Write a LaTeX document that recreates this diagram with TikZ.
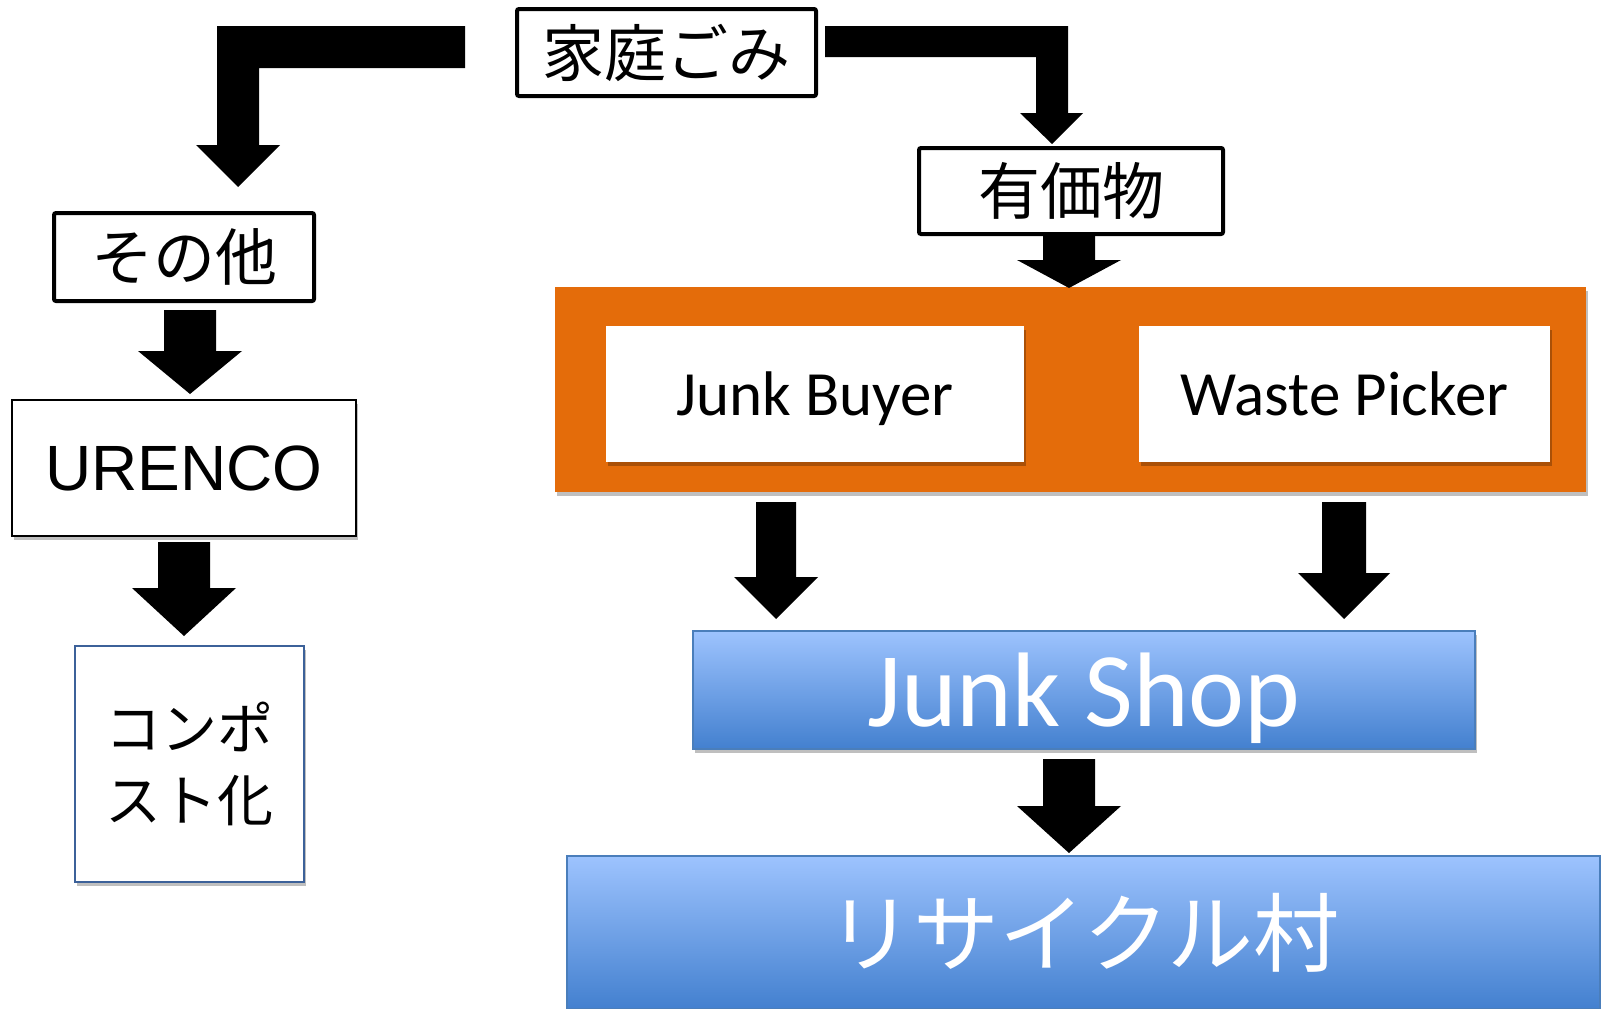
\documentclass[tikz,border=0pt]{standalone}
\usepackage{fontspec}
\setmainfont{Liberation Sans}
\newfontfamily\jpfont{Noto Sans CJK JP}
\newfontfamily\calfont{Carlito}
\usetikzlibrary{shadows}
\definecolor{orng}{HTML}{E46C0A}
\definecolor{ltblue}{HTML}{9DC3FE}
\definecolor{dkblue}{HTML}{4380CF}
\definecolor{bordblue}{HTML}{4A7EBB}
\definecolor{compblue}{HTML}{3C6199}
\newcommand\blkdown[6]{\fill[blk] (#1-#3,#2) -- (#1+#3,#2) -- (#1+#3,#5) -- (#1+#4,#5) -- (#1,#6) -- (#1-#4,#5) -- (#1-#3,#5) -- cycle;}
\begin{document}
\begin{tikzpicture}[x=1pt,y=-1pt,
  blk/.style={fill=black},
  softshadow/.style={drop shadow={shadow xshift=2pt,shadow yshift=-4pt,fill=black,opacity=0.25}},
  thickbox/.style={draw=black,line width=4pt,rounded corners=2pt,fill=white,inner sep=0pt,
    font=\jpfont\fontsize{62}{70}\selectfont},
  thinbox/.style={draw=black,line width=1.5pt,fill=white,inner sep=0pt,softshadow},
  whitebox/.style={fill=white,inner sep=0pt,softshadow,text depth=0pt,font=\calfont\fontsize{63}{70}\selectfont},
  bluebox/.style={draw=bordblue,line width=1.2pt,top color=ltblue,bottom color=dkblue,inner sep=0pt,text=white}]
\useasboundingbox (0,0) rectangle (1604,1009);
% top level boxes
\node[thickbox,minimum width=299pt,minimum height=87pt] (home) at (666.5,52.5) {家庭ごみ};
\node[thickbox,minimum width=260pt,minimum height=88pt] (other) at (184,257) {その他};
\node[thickbox,minimum width=304pt,minimum height=86pt] (valuable) at (1071,191) {有価物};
% left column
\node[thinbox,minimum width=344pt,minimum height=136pt,font=\fontsize{64}{70}\selectfont] (urenco) at (184,468) {URENCO};
\node[thinbox,draw=compblue,minimum width=229pt,minimum height=236pt,align=center,
  font=\jpfont\fontsize{56}{72}\selectfont] (compost) at (189.5,764) {コンポ\\スト化};
% orange group
\node[fill=orng,inner sep=0pt,minimum width=1031pt,minimum height=205pt,softshadow] (group) at (1070.5,389.5) {};
\node[whitebox,minimum width=418pt,minimum height=136pt] (buyer) at (815,394) {Junk Buyer};
\node[whitebox,minimum width=411pt,minimum height=136pt] (picker) at (1344.5,394) {Waste Picker};
% blue boxes
\node[bluebox,softshadow,text depth=0pt,minimum width=782pt,minimum height=118pt,font=\calfont\fontsize{106}{110}\selectfont] (shop) at (1084,690) {Junk Shop};
\node[bluebox,minimum width=1033pt,minimum height=153pt,font=\jpfont\fontsize{86}{90}\selectfont] (village) at (1083.5,932.5) {リサイクル村};
% bent arrows
\fill[blk] (465,26) -- (217,26) -- (217,145) -- (196,145) -- (238,187) -- (280,145) -- (259,145) -- (259,68) -- (465,68) -- cycle;
\fill[blk] (825,26) -- (1068,26) -- (1068,113) -- (1083,113) -- (1052,144) -- (1020,113) -- (1036,113) -- (1036,57) -- (825,57) -- cycle;
% straight block arrows
\blkdown{190}{310}{26}{52}{351}{394}
\blkdown{184}{542}{26}{52}{588}{636}
\blkdown{1069}{236}{26}{52}{260}{288}
\blkdown{776}{502}{20}{42}{577}{619}
\blkdown{1344}{502}{22}{46}{573}{619}
\blkdown{1069}{759}{26}{52}{806}{853}
\end{tikzpicture}
\end{document}
